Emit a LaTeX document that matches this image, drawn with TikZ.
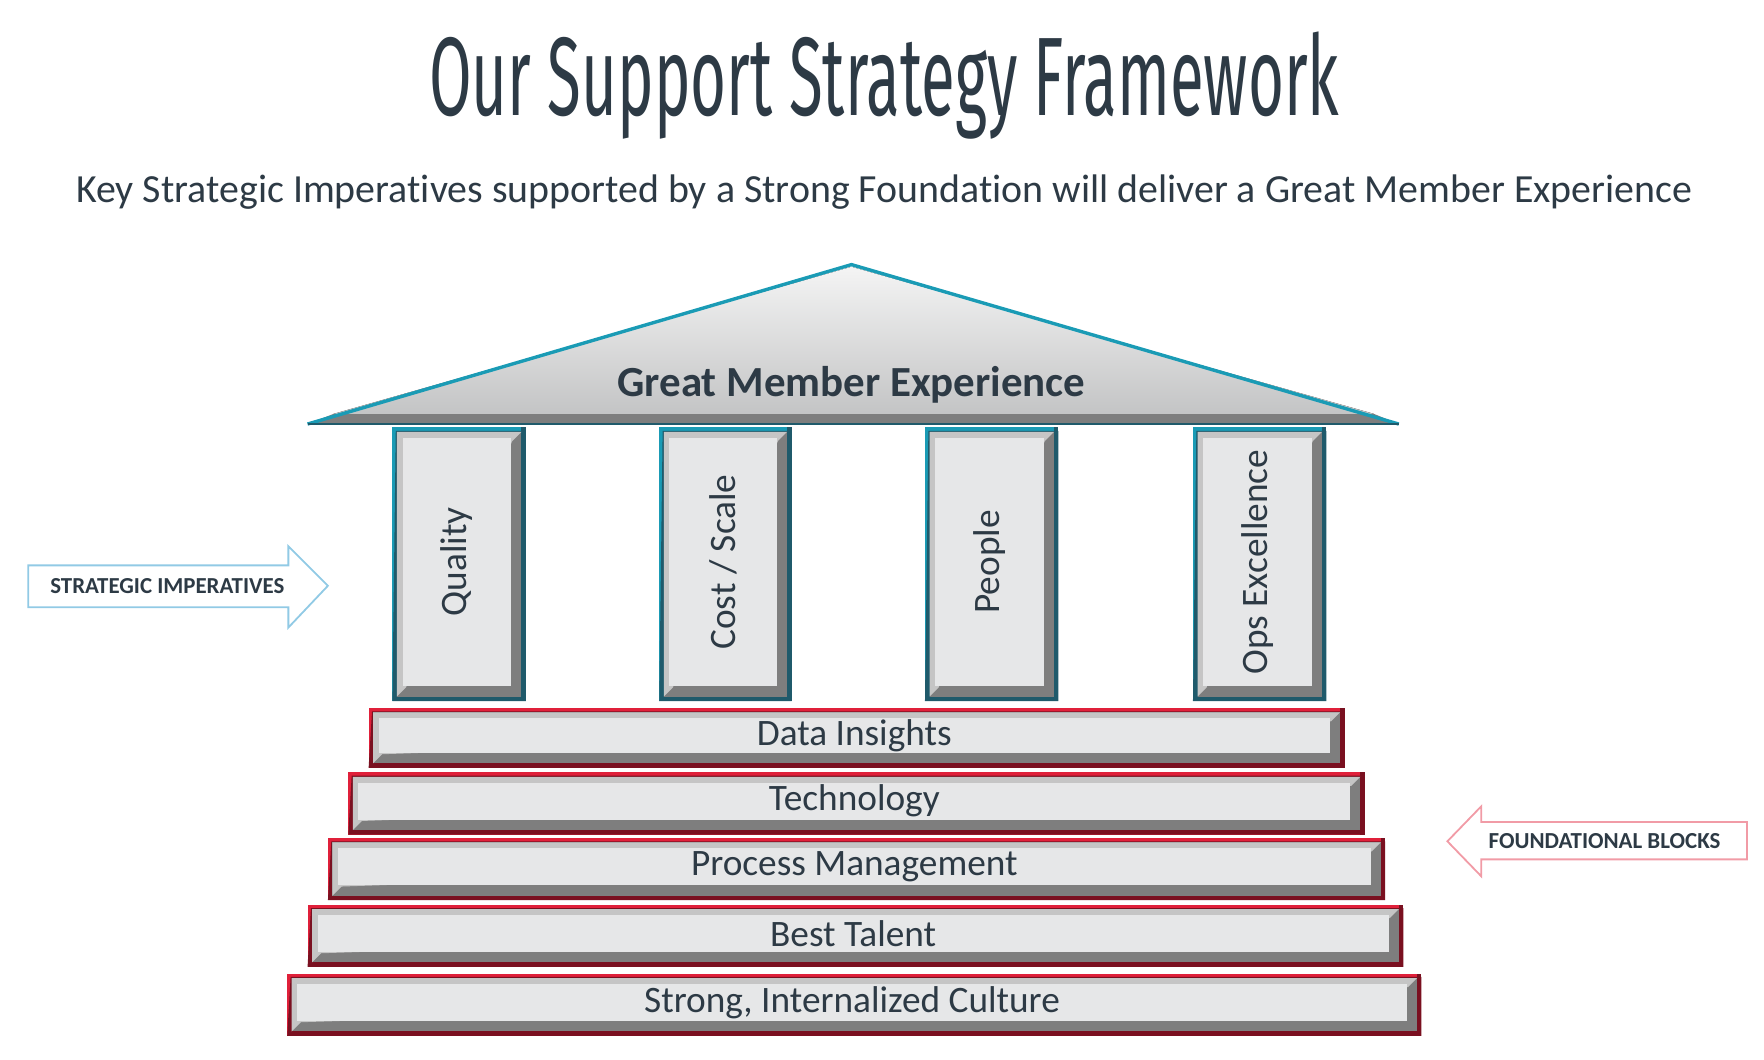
\documentclass[tikz,border=0pt]{standalone}
\usepackage{fontspec}
\setmainfont[Ligatures=NoCommon]{Carlito}
\newfontfamily\titlefont{Fira Sans}
\usetikzlibrary{shapes.arrows}
\definecolor{ink}{HTML}{2D3A45}
\definecolor{teal}{HTML}{1A9BB5}
\definecolor{dteal}{HTML}{1F5A6B}
\definecolor{red1}{HTML}{E0203A}
\definecolor{dred}{HTML}{7A1020}
\definecolor{face}{HTML}{E6E7E8}
\definecolor{hl}{HTML}{F4F4F4}
\definecolor{sh}{HTML}{7E7E7E}
% \bev{name}{x1}{y1}{x2}{y2}{light border}{dark border}{rotate}{text}
\newcommand\bev[9]{%
  \fill[#6] (#2,#3) rectangle (#4,#5);
  \fill[#7] (#2+3,#3+3) -- (#4,#3+3) -- (#4,#5) -- (#2,#5) -- cycle;
  \fill[#7] (#4-4,#3) rectangle (#4,#5);
  \fill[sh] (#2+4,#3+4) rectangle (#4-4,#5-4);
  \fill[hl!60!sh] (#2+4,#3+4) -- (#4-4,#3+4) -- (#4-12,#3+12) -- (#2+12,#5-12) -- (#2+4,#5-4) -- cycle;
  \node[face box, rotate=#8, minimum width={#8==0 ? (#4-#2-22)*1pt : (#5-#3-22)*1pt},
        minimum height={#8==0 ? (#5-#3-22)*1pt : (#4-#2-22)*1pt}]
     (#1) at ({(#2+#4)/2-2},{(#3+#5)/2-2}) {#9};}
\begin{document}
\begin{tikzpicture}[x=1pt,y=-1pt,
  face box/.style={fill=face,inner sep=0pt,font=\fontsize{33}{34}\selectfont,text=ink},
  sideword/.style={font=\bfseries\fontsize{15}{16}\selectfont,text=ink!90}]
\useasboundingbox (0,0) rectangle (1560,937);
\node[text=ink] (title) at (782,76) {\resizebox{805pt}{74pt}{\titlefont\fontsize{60}{60}\selectfont Our Support Strategy Framework}};
\node[text=ink] (sub) at (782,170) {\resizebox{1429pt}{!}{\fontsize{32}{34}\selectfont Key Strategic Imperatives supported by a Strong Foundation will deliver a Great Member Experience}};
% roof
\fill[sh] (272,375) -- (1237,375) -- (1215,366) -- (295,366) -- cycle;
\fill[top color=hl,bottom color=face!85!black] (753,236) -- (1215,366) -- (295,366) -- cycle;
\draw[teal,line width=3pt,line join=miter] (272,375) -- (753,234) -- (1237,375);
\draw[dteal,line width=2pt] (272,375) -- (1237,375);
\node[text=ink] (roof) at (753,340) {\resizebox{414pt}{!}{\bfseries\fontsize{31}{32}\selectfont Great Member Experience}};
% pillars
\bev{p1}{347}{378}{465}{620}{teal}{dteal}{90}{Quality}
\bev{p2}{583}{378}{700}{620}{teal}{dteal}{90}{Cost / Scale}
\bev{p3}{818}{378}{936}{620}{teal}{dteal}{90}{People}
\bev{p4}{1055}{378}{1173}{620}{teal}{dteal}{90}{Ops Excellence}
% steps
\bev{s1}{326}{626}{1189}{679}{red1}{dred}{0}{Data Insights}
\bev{s2}{308}{683}{1207}{738}{red1}{dred}{0}{Technology}
\bev{s3}{290}{741}{1225}{796}{red1}{dred}{0}{Process Management}
\bev{s4}{272}{800}{1241}{855}{red1}{dred}{0}{Best Talent}
\bev{s5}{254}{861}{1257}{916}{red1}{dred}{0}{Strong, Internalized Culture}
% side arrows
\draw[cyan!45!teal!50,line width=1.6pt,line join=miter] (25,500) -- (255,500) -- (255,483) -- (290,518) -- (255,555) -- (255,537) -- (25,537) -- cycle;
\node[text=ink] (sa) at (148,518) {\resizebox{207pt}{!}{\bfseries\fontsize{15}{16}\selectfont STRATEGIC IMPERATIVES}};
\draw[red1!45,line width=1.6pt,line join=miter] (1545,727) -- (1310,727) -- (1310,713) -- (1280,744) -- (1310,775) -- (1310,760) -- (1545,760) -- cycle;
\node[text=ink] (fa) at (1419,744) {\resizebox{205pt}{!}{\bfseries\fontsize{15}{16}\selectfont FOUNDATIONAL BLOCKS}};
\end{tikzpicture}
\end{document}
